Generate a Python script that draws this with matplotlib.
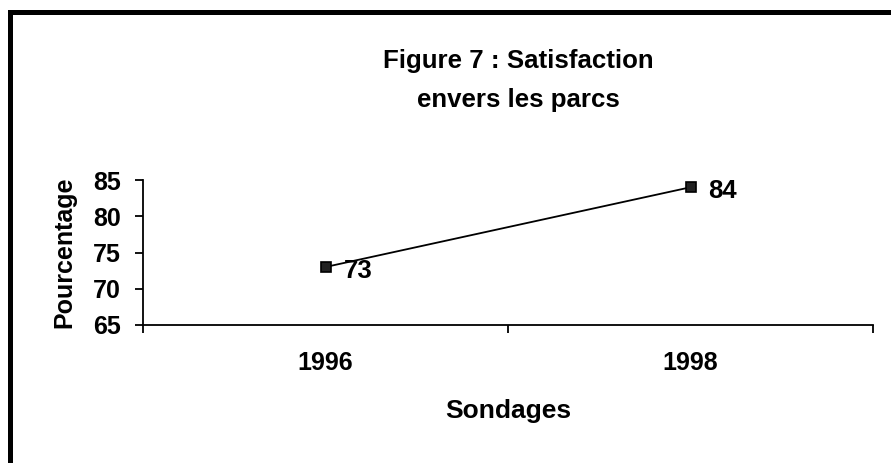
import matplotlib
matplotlib.use("Agg")
import matplotlib.pyplot as plt
from matplotlib.patches import Rectangle

plt.rcParams['font.family'] = ['Liberation Sans', 'DejaVu Sans']
plt.rcParams['font.weight'] = 'bold'

categories = ["1996", "1998"]
values = [73, 84]
y_ticks = [65, 70, 75, 80, 85]
title_lines = ["Figure 7 : Satisfaction", "envers les parcs"]
xlabel = "Sondages"
ylabel = "Pourcentage"

W, H = 891, 463
fig = plt.figure(figsize=(W / 100, H / 100), dpi=100)
fig.patch.set_facecolor('white')

# outer frame (cut off at right and bottom)
fig.patches.append(Rectangle((9.5 / W, -0.1), 1.2, (H - 11.5) / H + 0.1,
                             transform=fig.transFigure, fill=False,
                             edgecolor='black', linewidth=3.6, zorder=0))

ax = fig.add_axes([143 / W, (H - 325) / H, (873 - 143) / W, (325 - 180) / H])
x = [i + 0.5 for i in range(len(categories))]
ax.plot(x, values, color='black', linewidth=1.3, marker='s', markersize=7.5,
        markerfacecolor='#222222', markeredgecolor='black', markeredgewidth=1.2,
        clip_on=False, zorder=3)
for xi, v in zip(x, values):
    ax.annotate(str(v), (xi, v), xytext=(13, -3), textcoords='offset points',
                fontsize=18.5, fontweight='bold', va='center', ha='left')

ax.set_xlim(0, len(categories))
ax.set_ylim(65, 85)
ax.set_yticks(y_ticks)
ax.set_yticklabels([str(t) for t in y_ticks], fontsize=18, fontweight='bold')
ax.set_xticks(range(len(categories) + 1))
ax.set_xticklabels([])
ax.set_xticks(x, minor=True)
ax.set_xticklabels(categories, minor=True, fontsize=18, fontweight='bold')
ax.tick_params(axis='x', which='minor', length=0, pad=19)
ax.tick_params(axis='x', which='major', length=6, width=1.3, direction='out')
ax.tick_params(axis='y', length=6, width=1.3, direction='out', pad=10)

for s in ['top', 'right']:
    ax.spines[s].set_visible(False)
for s in ['left', 'bottom']:
    ax.spines[s].set_linewidth(1.3)

ax.set_xlabel(xlabel, fontsize=19, fontweight='bold')
ax.xaxis.label.set_va('baseline')
ax.xaxis.set_label_coords(0.5, -(418 - 325) / 145)
ax.set_ylabel(ylabel, fontsize=18, fontweight='bold', labelpad=12)

baselines = [68, 107]
for line, b in zip(title_lines, baselines):
    fig.text(518 / W, 1 - b / H, line, ha='center', va='baseline',
             fontsize=18.6, fontweight='bold')

fig.savefig("out.png", dpi=100)
